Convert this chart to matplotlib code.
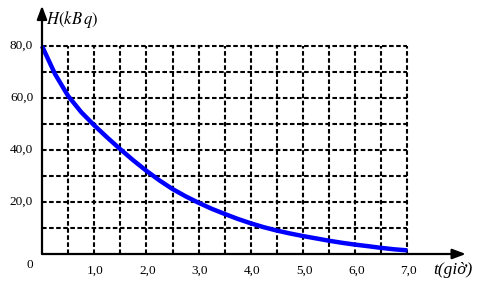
import matplotlib
matplotlib.use("Agg")
import matplotlib.pyplot as plt

# data
t_vals = [0, 0.25, 0.5, 0.75, 1.0, 1.25, 1.5, 1.75, 2.0, 2.25, 2.5, 2.75, 3.0, 3.25, 3.5,
          3.75, 4.0, 4.25, 4.5, 4.75, 5.0, 5.25, 5.5, 5.75, 6.0, 6.25, 6.5, 6.75, 7.0]
H_vals = [80, 69.2, 60.8, 54.6, 49.5, 44.8, 40.3, 36.0, 32.0, 28.3, 25.0, 22.2, 19.7, 17.4, 15.4,
          13.5, 11.8, 10.3, 9.0, 7.9, 6.9, 6.0, 5.1, 4.3, 3.6, 3.0, 2.35, 1.8, 1.4]
x_ticks = [1.0, 2.0, 3.0, 4.0, 5.0, 6.0, 7.0]
x_tick_labels = ["1,0", "2,0", "3,0", "4,0", "5,0", "6,0", "7,0"]
y_ticks = [20, 40, 60, 80]
y_tick_labels = ["20,0", "40,0", "60,0", "80,0"]
x_grid = [0.5 * i for i in range(1, 15)]
y_grid = [10 * i for i in range(1, 9)]

plt.rcParams['mathtext.fontset'] = 'stix'
serif = 'Liberation Serif'

fig = plt.figure(figsize=(4.82, 2.88), dpi=100)
ax = fig.add_axes([0, 0, 1, 1])
ax.set_xlim(-42 / 52.2, 440 / 52.2)
ax.set_ylim(-34 / 2.6, 254 / 2.6)
ax.axis('off')

dash = (0, (2.2, 1.2))
ax.vlines(x_grid, 0, 80, colors='black', linewidth=1.5, linestyles=[dash])
ax.hlines(y_grid, 0, 7, colors='black', linewidth=1.5, linestyles=[dash])

ax.plot(t_vals, H_vals, color='#0000ff', linewidth=3.2, solid_capstyle='butt',
        solid_joinstyle='round', zorder=5)

# axes with arrows
ax.annotate('', xy=(8.12, 0), xytext=(0, 0),
            arrowprops=dict(arrowstyle='-|>,head_length=0.8,head_width=0.3', color='black', lw=1.6,
                            shrinkA=0, shrinkB=0), zorder=6)
ax.annotate('', xy=(0, 95.5), xytext=(0, 0),
            arrowprops=dict(arrowstyle='-|>,head_length=0.8,head_width=0.3', color='black', lw=1.6,
                            shrinkA=0, shrinkB=0), zorder=6)

for xv, lab in zip(x_ticks, x_tick_labels):
    ax.text(xv + 0.02, -6.3, lab, ha='center', va='center', fontsize=9.5, family=serif)
for yv, lab in zip(y_ticks, y_tick_labels):
    ax.text(-0.17, yv, lab, ha='right', va='center', fontsize=9.5, family=serif)
ax.text(-0.17, -4.3, "0", ha='right', va='center', fontsize=9.5, family=serif)

ax.text(0.07, 90.3, r"$H(kB\,q)$", ha='left', va='center', fontsize=12)
ax.text(7.5, -6.0, "t(giờ)", ha='left', va='center', fontsize=12.5, family=serif, style='italic')

fig.savefig("out.png", dpi=100)
